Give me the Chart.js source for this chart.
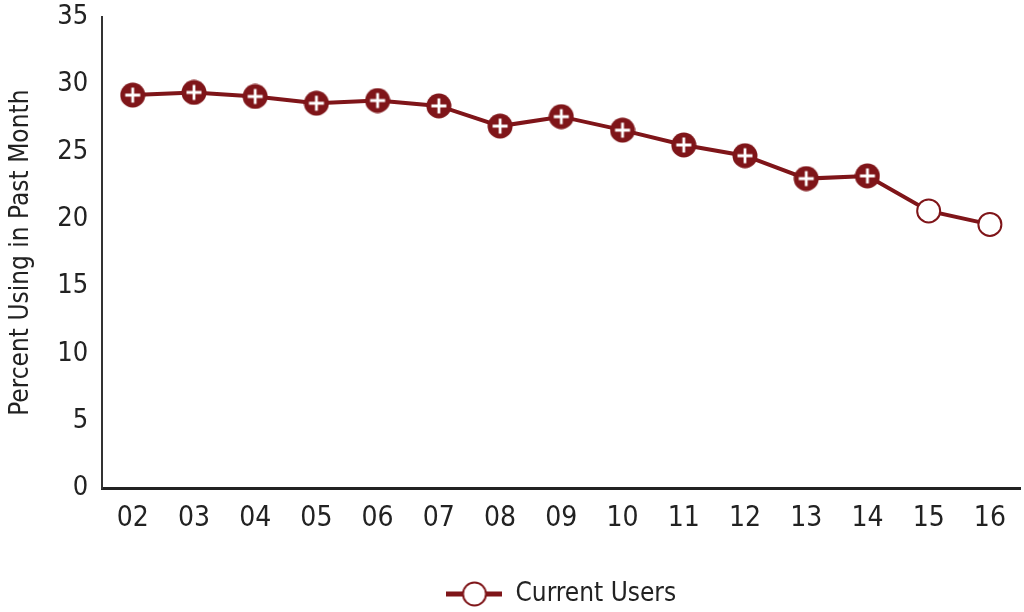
<!DOCTYPE html>
<html>
<head>
<meta charset="utf-8">
<script src="https://cdn.jsdelivr.net/npm/chart.js@4"></script>
<style>
  html, body { margin: 0; padding: 0; background: #fff; overflow: hidden; }
  #wrap { width: 1024px; height: 612px; overflow: hidden; }
</style>
</head>
<body>
<div id="wrap"><canvas id="usersChart" width="1034" height="617"></canvas></div>
<script>
// Chart data
const years = ['02', '03', '04', '05', '06', '07', '08', '09', '10', '11', '12', '13', '14', '15', '16'];
const currentUsers = [29.2, 29.4, 29.1, 28.6, 28.8, 28.4, 26.9, 27.6, 26.6, 25.5, 24.7, 23.0, 23.2, 20.6, 19.6];
// last two years are shown as hollow markers
const hollowFrom = 13;
const yTicks = [0, 5, 10, 15, 20, 25, 30, 35];

const RED = '#7f1519';
const FONT = '"Liberation Sans Narrow", "DejaVu Sans Condensed", "Roboto Condensed", sans-serif';

// filled circle with a white plus
function plusMarker() {
    const c = document.createElement('canvas');
    c.width = 26; c.height = 26;
    const ctx = c.getContext('2d');
    ctx.fillStyle = RED;
    ctx.beginPath();
    ctx.arc(13, 13, 12.5, 0, Math.PI * 2);
    ctx.fill();
    ctx.strokeStyle = '#fff';
    ctx.lineWidth = 2.8;
    ctx.beginPath();
    ctx.moveTo(5.5, 13); ctx.lineTo(20.5, 13);
    ctx.moveTo(13, 5.5); ctx.lineTo(13, 20.5);
    ctx.stroke();
    return c;
}

// legend symbol: line - hollow circle - line
function legendMarker() {
    const c = document.createElement('canvas');
    c.width = 56; c.height = 28;
    const ctx = c.getContext('2d');
    ctx.strokeStyle = RED;
    ctx.lineWidth = 5;
    ctx.beginPath();
    ctx.moveTo(0, 14); ctx.lineTo(56, 14);
    ctx.stroke();
    ctx.fillStyle = '#fff';
    ctx.lineWidth = 2;
    ctx.beginPath();
    ctx.arc(28, 14, 11.5, 0, Math.PI * 2);
    ctx.fill();
    ctx.stroke();
    return c;
}

const plusImg = plusMarker();
const legendImg = legendMarker();

new Chart(document.getElementById('usersChart'), {
    type: 'line',
    data: {
        labels: years,
        datasets: [{
            label: 'Current Users',
            data: currentUsers,
            borderColor: RED,
            borderWidth: 4,
            tension: 0,
            pointStyle: ctx => ctx.dataIndex < hollowFrom ? plusImg : 'circle',
            pointRadius: 11.5,
            pointHoverRadius: 11.5,
            pointBackgroundColor: '#fff',
            pointBorderColor: RED,
            pointBorderWidth: 2
        }]
    },
    options: {
        responsive: false,
        animation: false,
        layout: { padding: { top: 0, right: 4, left: 2, bottom: 0 } },
        plugins: {
            tooltip: { enabled: false },
            legend: {
                position: 'bottom',
                fullSize: false,
                labels: {
                    usePointStyle: true,
                    pointStyleWidth: 56,
                    color: '#222',
                    font: { family: FONT, size: 26 },
                    padding: 0,
                    generateLabels: chart => [{
                        text: 'Current Users',
                        pointStyle: legendImg,
                        fontColor: '#222',
                        lineWidth: 0,
                        datasetIndex: 0
                    }]
                }
            }
        },
        scales: {
            x: {
                offset: true,
                grid: { display: false, drawTicks: false },
                border: { color: '#222', width: 3 },
                ticks: {
                    color: '#222',
                    padding: 14,
                    font: { family: FONT, size: 28 }
                },
                // blank title keeps the gap above the legend
                title: {
                    display: true,
                    text: ' ',
                    padding: { top: 4, bottom: 3 },
                    font: { size: 20 }
                },
                afterFit: axis => { axis.paddingLeft = 0; axis.paddingRight = 0; }
            },
            y: {
                min: 0,
                max: 35,
                afterBuildTicks: axis => { axis.ticks = yTicks.map(v => ({ value: v })); },
                afterFit: axis => { axis.paddingTop = 17; axis.paddingBottom = 0; },
                grid: { display: false, drawTicks: false },
                border: { color: '#333', width: 2 },
                ticks: {
                    color: '#222',
                    padding: 14,
                    font: { family: FONT, size: 27 }
                },
                title: {
                    display: true,
                    text: 'Percent Using in Past Month',
                    color: '#222',
                    padding: { bottom: 6 },
                    font: { family: FONT, size: 26 }
                }
            }
        }
    }
});
</script>
</body>
</html>
